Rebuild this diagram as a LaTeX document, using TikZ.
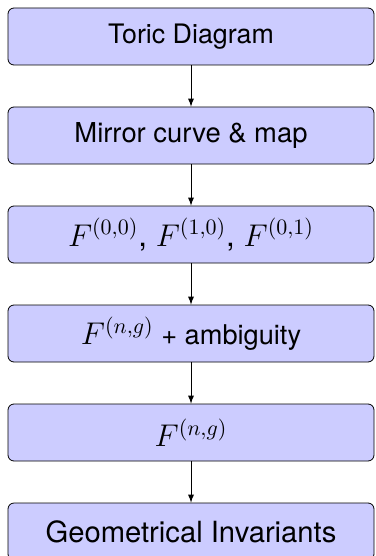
\documentclass[tikz,border=0pt]{standalone}
\usepackage{fix-cm}
\usepackage{fontspec}
\setmainfont{TeX Gyre Heros}
\usetikzlibrary{arrows, positioning}

\begin{document}
\begin{tikzpicture}[
    node distance=20.6pt,
    stagebox/.style={rectangle, rounded corners=3pt, draw=black, fill=blue!20, minimum width=183pt, minimum height=28.5pt, align=center, inner sep=0pt}
]
\useasboundingbox (0,0) rectangle (187.5pt,-278pt);
\node[stagebox, font=\fontsize{13.4}{15}\selectfont] (toric) at (95.5pt,-18.25pt) {Toric Diagram};
\node[stagebox, font=\fontsize{13.7}{16}\selectfont, below=of toric] (mirror) {Mirror curve \& map};
\node[stagebox, font=\fontsize{15.7}{18}\selectfont, below=of mirror] (flow) {$F^{(0,0)}$, $F^{(1,0)}$, $F^{(0,1)}$};
\node[stagebox, font=\fontsize{13.6}{16}\selectfont, below=of flow] (amb) {{\fontsize{15.7}{18}\selectfont$F^{(n,g)}$} + ambiguity};
\node[stagebox, font=\fontsize{15.7}{18}\selectfont, below=of amb] (fng) {$F^{(n,g)}$};
\node[stagebox, font=\fontsize{14.6}{17}\selectfont, below=of fng] (geom) {Geometrical Invariants};

\draw[-latex] (toric) -- (mirror);
\draw[-latex] (mirror) -- (flow);
\draw[-latex] (flow) -- (amb);
\draw[-latex] (amb) -- (fng);
\draw[-latex] (fng) -- (geom);
\end{tikzpicture}
\end{document}
